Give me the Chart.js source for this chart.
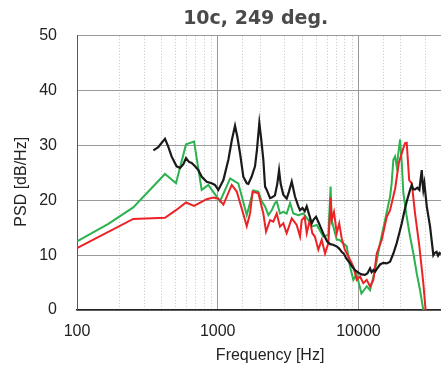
<!DOCTYPE html>
<html>
<head>
<meta charset="utf-8">
<script src="https://cdn.jsdelivr.net/npm/chart.js@4.4.1/dist/chart.umd.min.js"></script>
<style>
  html, body { margin: 0; padding: 0; background: #fff; }
  #psdChart { display: block; }
</style>
</head>
<body>
<canvas id="psdChart" width="441" height="367"></canvas>
<script>
// PSD spectra, 10c at 249 deg. (three measurement runs)
const chartTitle = '10c, 249 deg. ';
const yTicks = [0, 10, 20, 30, 40, 50];
const xLabelTicks = [100, 1000, 10000];

// black run
const blackFreq = [349, 378, 400, 422, 445, 470, 510, 540, 570, 595, 625, 653, 690, 728, 770, 835, 905, 955, 1010, 1097,
  1190, 1260, 1327, 1380, 1440, 1520, 1608, 1650, 1740, 1841, 1900, 1975, 2040, 2109, 2170, 2230, 2355, 2420, 2550, 2650,
  2728, 2800, 2925, 3090, 3200, 3357, 3450, 3540, 3740, 3845, 4000, 4150, 4291, 4450, 4656, 4800, 4995, 5200, 5483, 5700,
  6000, 6300, 6600, 7013, 7300, 7600, 7900, 8200, 8716, 9100, 9500, 10000, 10500, 11140, 11600, 12090, 12400, 12800, 13120, 13600,
  14240, 15000, 15890, 16780, 17700, 18700, 19500, 20320, 21200, 22030, 23260, 23930, 24500, 25240, 26200, 27100, 27700, 28180, 28600, 28900,
  29400, 30580, 32280, 34060, 34800, 35900, 36800, 37700, 38600];
const blackPsd = [29.1, 29.7, 30.5, 31.2, 29.8, 28.0, 26.2, 25.9, 26.6, 27.7, 27.0, 26.8, 26.2, 25.5, 24.3, 23.4, 23.1, 22.8, 21.9, 23.7,
  27.4, 31.0, 33.6, 31.5, 28.6, 24.3, 23.1, 23.0, 24.3, 26.2, 29.2, 34.1, 31.0, 27.4, 22.5, 21.9, 20.4, 20.5, 20.9, 23.0,
  25.5, 23.0, 21.0, 20.3, 21.5, 23.4, 22.0, 20.7, 18.9, 18.2, 18.6, 18.0, 18.9, 17.5, 15.8, 16.5, 17.0, 16.0, 14.6, 13.6,
  12.5, 12.0, 11.9, 11.6, 11.2, 10.6, 10.2, 9.4, 8.5, 7.8, 7.2, 6.8, 6.5, 6.4, 6.7, 7.6, 6.9, 7.3, 7.0, 7.6,
  8.3, 8.6, 8.5, 8.8, 10.3, 12.2, 14.0, 15.8, 18.0, 19.8, 21.9, 22.8, 22.0, 22.0, 22.3, 21.9, 24.0, 25.5, 23.0, 21.9,
  23.1, 18.9, 15.2, 10.0, 10.4, 10.6, 9.9, 10.4, 10.2];

// red run
const redFreq = [100, 251, 422, 505, 595, 679, 835, 931, 1010, 1097, 1258, 1365, 1500, 1608, 1697, 1770, 1943, 2109, 2205, 2355,
  2485, 2626, 2770, 2925, 3090, 3357, 3640, 3845, 3950, 4150, 4291, 4515, 4700, 4900, 5188, 5483, 5790, 6110, 6356, 6450,
  6700, 7013, 7300, 7600, 8000, 8500, 9200, 9725, 10260, 10830, 11450, 12090, 12760, 13490, 14650, 15890, 16780, 18250, 19350, 20320,
  21400, 22030, 22930, 23930, 25240, 27100, 28900, 30000];
const redPsd = [11.3, 16.6, 16.8, 18.2, 19.6, 19.0, 20.2, 20.5, 20.3, 19.2, 22.8, 21.6, 18.0, 15.3, 17.6, 21.6, 21.3, 17.6, 14.3, 16.4,
  16.1, 17.6, 15.2, 15.8, 14.0, 16.7, 15.5, 13.4, 16.4, 17.0, 14.0, 16.4, 14.0, 13.4, 11.0, 12.8, 10.3, 12.2, 20.5, 16.4,
  17.9, 14.0, 15.8, 13.1, 11.0, 9.7, 7.9, 5.5, 6.1, 4.9, 5.5, 4.3, 5.5, 10.3, 12.8, 17.0, 18.2, 22.2, 26.8, 28.6,
  30.4, 30.5, 23.7, 23.1, 17.6, 11.6, 4.9, 0.0];

// green run
const greenFreq = [100, 167, 251, 422, 505, 595, 679, 769, 857, 1038, 1225, 1330, 1400, 1608, 1790, 1943, 2055, 2170, 2290, 2420,
  2550, 2626, 2770, 2925, 3090, 3266, 3445, 3740, 4058, 4405, 4656, 5053, 5630, 6110, 6340, 6450, 7013, 7300, 8260, 8716,
  9200, 9700, 10500, 11450, 12090, 13120, 14240, 15460, 16780, 17200, 17700, 18200, 18700, 19760, 20320, 20850, 22030, 23260, 24560, 25940,
  27400, 28900];
const greenPsd = [12.5, 15.7, 18.7, 24.8, 23.1, 30.2, 30.7, 21.9, 22.8, 19.8, 24.0, 23.4, 23.1, 17.3, 21.8, 21.6, 19.8, 18.9, 17.3, 18.2,
  19.5, 19.8, 17.6, 17.9, 17.6, 19.5, 17.6, 17.3, 17.6, 16.4, 15.2, 15.5, 13.4, 13.7, 22.5, 16.4, 12.8, 12.8, 11.6, 7.9,
  5.5, 6.5, 3.0, 4.3, 3.6, 7.3, 12.2, 16.4, 20.7, 23.0, 27.4, 28.0, 26.2, 31.1, 26.8, 21.3, 17.0, 13.4, 10.3, 6.7,
  3.6, 0.0];

function toPoints(freqs, values) {
  return freqs.map((f, i) => ({ x: f, y: values[i] }));
}

function isDecade(v) {
  const l = Math.log10(v);
  return Math.abs(l - Math.round(l)) < 1e-6;
}

const tickFont = { family: '"Liberation Sans", Arial, sans-serif', size: 16 };

const ctx = document.getElementById('psdChart');
window.psdChart = new Chart(ctx, {
  type: 'line',
  data: {
    datasets: [
      {
        label: 'black',
        data: toPoints(blackFreq, blackPsd),
        borderColor: '#1a1a1a',
        borderWidth: 2.2,
        pointRadius: 0,
        tension: 0
      },
      {
        label: 'red',
        data: toPoints(redFreq, redPsd),
        borderColor: '#ec2227',
        borderWidth: 2,
        pointRadius: 0,
        tension: 0
      },
      {
        label: 'green',
        data: toPoints(greenFreq, greenPsd),
        borderColor: '#2cb24e',
        borderWidth: 2,
        pointRadius: 0,
        tension: 0
      }
    ]
  },
  options: {
    responsive: false,
    animation: false,
    devicePixelRatio: 1,
    layout: { padding: 0 },
    plugins: {
      legend: { display: false },
      tooltip: { enabled: false },
      title: {
        display: true,
        text: chartTitle,
        fullSize: false,
        color: '#4a4a4a',
        font: { family: '"DejaVu Sans", Verdana, sans-serif', size: 19, weight: 'bold' },
        padding: { top: 8, bottom: 5 }
      }
    },
    scales: {
      x: {
        type: 'logarithmic',
        min: 100,
        max: 38600,
        afterFit: (scale) => { scale.height = 57; },
        border: {
          color: '#222',
          width: 1.5,
          dash: (c) => (c.tick && !isDecade(c.tick.value) ? [1, 2] : [])
        },
        grid: {
          drawTicks: false,
          color: (c) => (c.tick && isDecade(c.tick.value) ? '#9a9a9a' : '#c4c4c4'),
          lineWidth: 1
        },
        ticks: {
          autoSkip: false,
          maxRotation: 0,
          padding: 12,
          color: '#222',
          font: tickFont,
          callback: function(value) {
            if (value > 30000) return null;
            return xLabelTicks.includes(value) ? String(value) : '';
          }
        },
        title: {
          display: true,
          text: '     Frequency [Hz]',
          color: '#222',
          font: tickFont,
          padding: { top: 0, bottom: 2 }
        }
      },
      y: {
        min: 0,
        max: 50,
        afterFit: (scale) => { scale.width = 77; },
        afterBuildTicks: (scale) => { scale.ticks = yTicks.map(v => ({ value: v })); },
        border: { color: '#555', width: 1 },
        grid: {
          drawTicks: false,
          color: '#9a9a9a',
          lineWidth: 1
        },
        ticks: {
          padding: 20,
          color: '#222',
          font: tickFont
        },
        title: {
          display: true,
          text: 'PSD [dB/Hz]    ',
          color: '#222',
          font: tickFont,
          padding: { top: 12, bottom: 0 }
        }
      }
    }
  }
});
</script>
</body>
</html>
